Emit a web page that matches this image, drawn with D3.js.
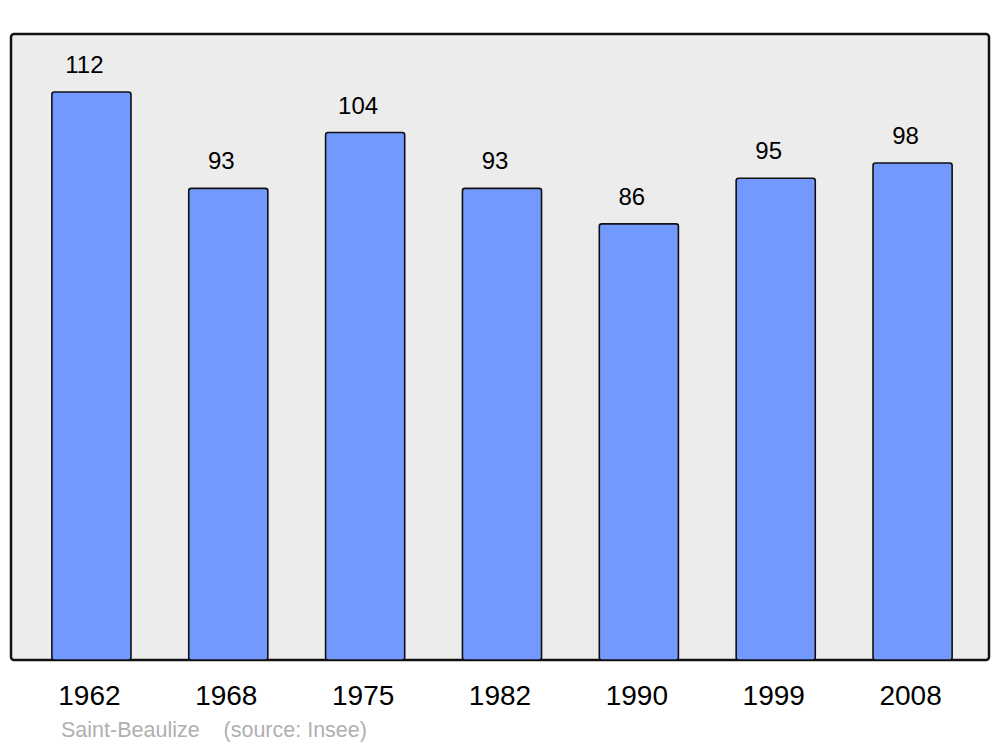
<!DOCTYPE html>
<html><head><meta charset="utf-8">
<script src="https://cdn.jsdelivr.net/npm/d3@7"></script>
<style>body{margin:0;background:#fff}svg{display:block}</style>
</head><body>
<svg id="c" width="1000" height="747"></svg>
<script>
const years = ["1962","1968","1975","1982","1990","1999","2008"];
const population = [112, 93, 104, 93, 86, 95, 98];
const caption = "Saint-Beaulize    (source: Insee)";

const svg = d3.select("#c");
const panel = {x0: 11, y0: 34, x1: 989, y1: 660};

svg.append("rect")
  .attr("x", panel.x0).attr("y", panel.y0)
  .attr("width", panel.x1 - panel.x0).attr("height", panel.y1 - panel.y0)
  .attr("rx", 3).attr("ry", 3)
  .attr("fill", "#ececec").attr("stroke", "#111").attr("stroke-width", 2.5);

const x = d3.scaleBand().domain(years).range([23, 981]).paddingInner(0.422).paddingOuter(0.211);
const y = d3.scaleLinear().domain([0, 112]).range([panel.y1, 92]);

svg.selectAll("rect.bar").data(population).join("rect")
  .attr("class", "bar")
  .attr("x", (d, i) => x(years[i]))
  .attr("y", d => y(d))
  .attr("width", x.bandwidth())
  .attr("height", d => y(0) - y(d))
  .attr("rx", 2.5).attr("ry", 2.5)
  .attr("fill", "#7399ff").attr("stroke", "#111").attr("stroke-width", 1.6);

svg.selectAll("text.val").data(population).join("text")
  .attr("class", "val")
  .attr("x", (d, i) => x(years[i]) + x.bandwidth() / 2 - 7)
  .attr("y", d => y(d) - 19)
  .attr("text-anchor", "middle")
  .attr("font-family", "Liberation Sans, Arial, sans-serif")
  .attr("font-size", 24)
  .attr("fill", "#000")
  .text(d => d);

const xAxis = d3.axisBottom(x).tickSize(0).tickPadding(0);
const gx = svg.append("g").attr("transform", `translate(-2, ${panel.y1})`).call(xAxis);
gx.select(".domain").remove();
gx.selectAll("text")
  .attr("dy", null).attr("y", 45)
  .attr("font-family", "Liberation Sans, Arial, sans-serif")
  .attr("font-size", 28).attr("fill", "#000");

svg.append("text")
  .attr("x", 61).attr("y", 737)
  .attr("font-family", "Liberation Sans, Arial, sans-serif")
  .attr("font-size", 21.5).attr("fill", "#b0b0b0")
  .attr("xml:space", "preserve").style("white-space", "pre")
  .text(caption);
</script>
</body></html>
